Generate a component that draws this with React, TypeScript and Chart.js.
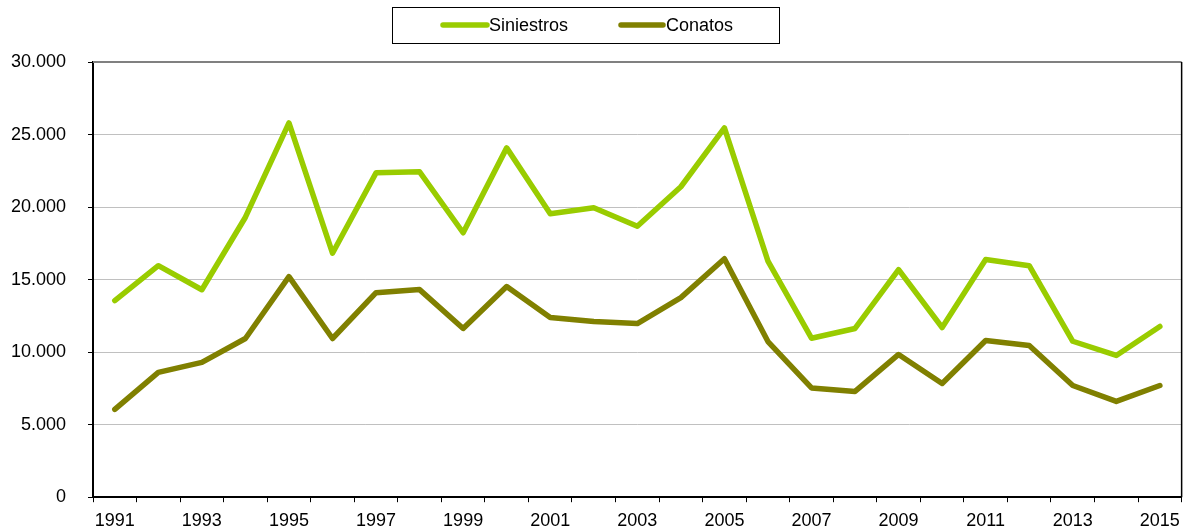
import React, { useEffect, useRef } from "react";
import { Chart, registerables } from "chart.js";

Chart.register(...registerables);

const years = [
  "1991", "1992", "1993", "1994", "1995", "1996", "1997", "1998", "1999", "2000",
  "2001", "2002", "2003", "2004", "2005", "2006", "2007", "2008", "2009", "2010",
  "2011", "2012", "2013", "2014", "2015",
];

const siniestros = [
  13550, 15960, 14300, 19300, 25800, 16820, 22360, 22430, 18230, 24080,
  19540, 19950, 18680, 21400, 25460, 16280, 10960, 11630, 15690, 11700,
  16380, 15960, 10750, 9770, 11770,
];

const conatos = [
  6050, 8600, 9290, 10940, 15200, 10940, 14100, 14310, 11630, 14520,
  12390, 12110, 11970, 13760, 16440, 10730, 7530, 7290, 9840, 7840,
  10800, 10460, 7700, 6600, 7700,
];

const seriesNames = ["Siniestros", "Conatos"];
const seriesColors = ["#99CC00", "#808000"];

const FONT = "'Liberation Sans', Arial, sans-serif";

const fmt = (v: number) =>
  String(Math.round(v)).replace(/\B(?=(\d{3})+(?!\d))/g, ".");

const framePlugin = {
  id: "frameAndLegend",
  afterDraw(chart: any) {
    const ctx = chart.ctx;
    const a = chart.chartArea;
    ctx.save();
    ctx.strokeStyle = "#808080";
    ctx.lineWidth = 2;
    ctx.beginPath();
    ctx.moveTo(a.left, a.top);
    ctx.lineTo(a.right, a.top);
    ctx.stroke();
    ctx.strokeStyle = "#000000";
    ctx.lineWidth = 1.5;
    ctx.beginPath();
    ctx.moveTo(a.right, a.top);
    ctx.lineTo(a.right, a.bottom);
    ctx.stroke();

    ctx.strokeStyle = "#000000";
    ctx.lineWidth = 1;
    ctx.strokeRect(392.5, 7.5, 387, 36);
    const items = [
      { x0: 443, x1: 487, tx: 489 },
      { x0: 621, x1: 663, tx: 666 },
    ];
    ctx.font = `18px ${FONT}`;
    ctx.textBaseline = "middle";
    ctx.textAlign = "left";
    items.forEach((it, i) => {
      ctx.strokeStyle = seriesColors[i];
      ctx.lineWidth = 5.5;
      ctx.lineCap = "round";
      ctx.beginPath();
      ctx.moveTo(it.x0, 25);
      ctx.lineTo(it.x1, 25);
      ctx.stroke();
      ctx.fillStyle = "#000000";
      ctx.fillText(seriesNames[i], it.tx, 26);
    });
    ctx.restore();
  },
};

export default function App() {
  const ref = useRef<HTMLCanvasElement | null>(null);

  useEffect(() => {
    if (!ref.current) return;
    const chart = new Chart(ref.current, {
      type: "line",
      data: {
        labels: years,
        datasets: [
          {
            label: seriesNames[0],
            data: siniestros,
            borderColor: seriesColors[0],
            backgroundColor: seriesColors[0],
            borderWidth: 5.5,
            pointRadius: 0,
            tension: 0,
            borderJoinStyle: "round",
            borderCapStyle: "round",
          },
          {
            label: seriesNames[1],
            data: conatos,
            borderColor: seriesColors[1],
            backgroundColor: seriesColors[1],
            borderWidth: 5.5,
            pointRadius: 0,
            tension: 0,
            borderJoinStyle: "round",
            borderCapStyle: "round",
          },
        ],
      },
      options: {
        animation: false,
        responsive: false,
        maintainAspectRatio: false,
        layout: { padding: { left: 0, right: 6, top: 62, bottom: 0 } },
        plugins: {
          legend: { display: false },
          tooltip: { enabled: false },
        },
        scales: {
          x: {
            offset: true,
            afterFit: (s: any) => {
              s.height = 32;
            },
            grid: {
              offset: true,
              drawOnChartArea: false,
              drawTicks: true,
              tickLength: 5,
              color: "#000000",
            },
            border: { display: true, color: "#000000", width: 2 },
            ticks: {
              autoSkip: false,
              maxRotation: 0,
              padding: 8,
              color: "#000000",
              font: { family: FONT, size: 18 },
              callback: (_v: any, i: number) => (i % 2 === 0 ? years[i] : ""),
            },
          },
          y: {
            min: 0,
            max: 30000,
            afterFit: (s: any) => {
              s.width = 93;
            },
            grid: {
              color: "#C0C0C0",
              lineWidth: 1,
              drawTicks: true,
              tickLength: 5,
              tickColor: "#000000",
            },
            border: { display: true, color: "#000000", width: 2 },
            ticks: {
              stepSize: 5000,
              padding: 22,
              color: "#000000",
              font: { family: FONT, size: 18 },
              callback: (v: any) => fmt(Number(v)),
            },
          },
        },
      },
      plugins: [framePlugin],
    });
    return () => chart.destroy();
  }, []);

  return (
    <div style={{ position: "fixed", left: 0, top: 0, width: 1188, height: 530, background: "#ffffff" }}>
      <canvas ref={ref} width={1188} height={530} style={{ width: 1188, height: 530, display: "block" }} />
    </div>
  );
}
